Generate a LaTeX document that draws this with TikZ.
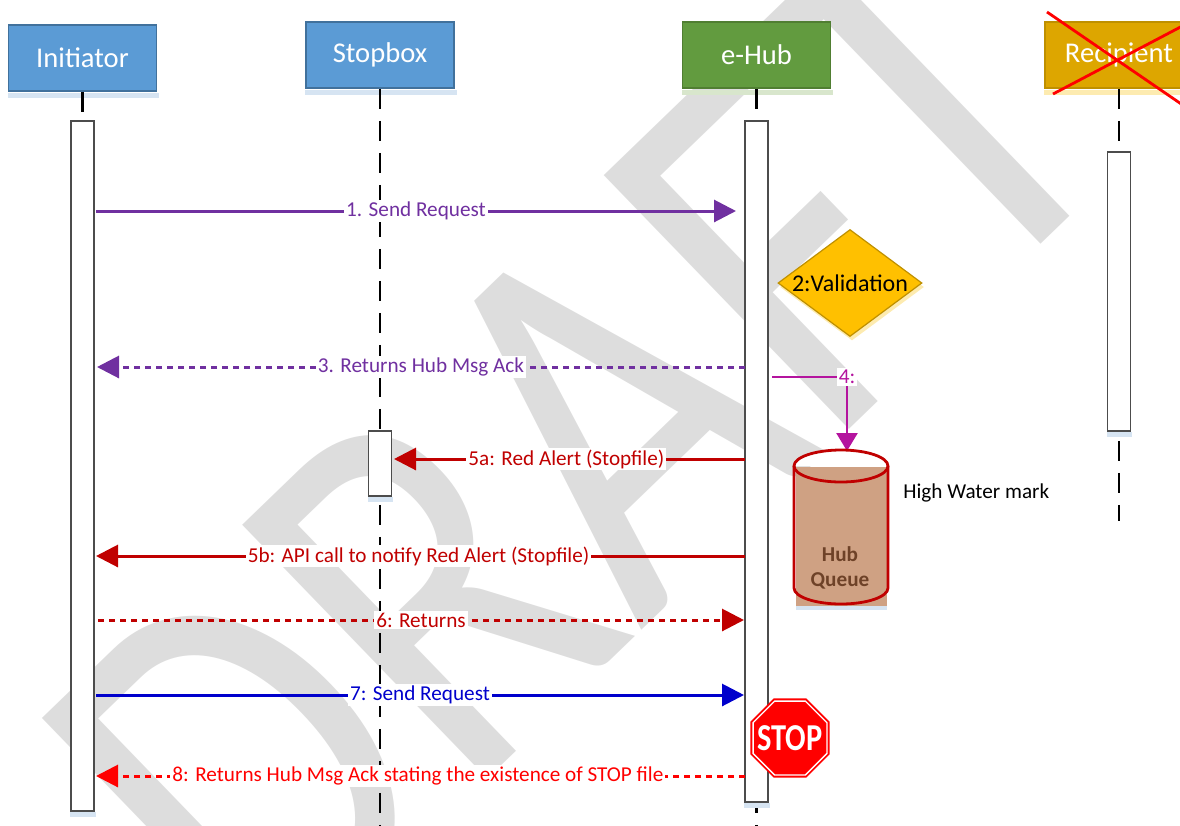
\documentclass[tikz,border=0pt]{standalone}
\usepackage{fontspec}
\usepackage{graphicx}
\setmainfont{Carlito}
\usetikzlibrary{arrows.meta,shapes.geometric}
\definecolor{hdrblue}{HTML}{5B9BD5}
\definecolor{hdrblueb}{HTML}{41719C}
\definecolor{hdrgreen}{HTML}{629B3F}
\definecolor{hdrgreenb}{HTML}{507E32}
\definecolor{hdrgold}{HTML}{DDA600}
\definecolor{hdrgoldb}{HTML}{BF9000}
\definecolor{valfill}{HTML}{FFC000}
\definecolor{mpurple}{HTML}{7030A0}
\definecolor{mmag}{HTML}{B4149E}
\definecolor{mdred}{HTML}{C00000}
\definecolor{mblue}{HTML}{0000CC}
\definecolor{mred}{HTML}{FF0000}
\definecolor{wmgray}{RGB}{221,221,221}
\definecolor{qfill}{RGB}{207,161,131}
\definecolor{qtext}{RGB}{110,66,40}
\definecolor{shblue}{HTML}{D6E4F2}
\definecolor{shgreen}{HTML}{D8E6CC}
\definecolor{shgold}{HTML}{FDEBB0}
\begin{document}
\begin{tikzpicture}[x=0.5pt,y=0.5pt,
  header/.style={draw, line width=0.75pt, minimum width=74pt, minimum height=33pt,
    inner sep=0pt, text=white, font=\fontsize{14.3}{16}\selectfont},
  act/.style={draw=black!70, fill=white, line width=0.6pt, minimum width=11.5pt, inner sep=0pt},
  life/.style={line width=1.2pt, dash pattern=on 10pt off 6pt},
  msg/.style={line width=1.5pt, -{Triangle[length=11pt,width=11pt]}},
  dots/.style={dash pattern=on 3.2pt off 2.3pt},
  lbl/.style={fill=white, inner sep=1pt, font=\fontsize{10.6}{12}\selectfont},
  stopsign/.style={regular polygon, regular polygon sides=8, minimum size=40pt, inner sep=0pt,
    fill=mred, draw=white, line width=0.7pt, preaction={draw=mred, line width=2.6pt}}
]
\useasboundingbox (0,0) rectangle (1180,-826);
\clip (0,0) rectangle (1180,-826);

% watermark
\node[rotate=44, anchor=base, inner sep=0pt, text=wmgray, font=\fontsize{250}{250}\selectfont] (wm) at (700,-574) {\scalebox{0.9}[1.1]{DRAFT}};

% headers
\node[header, fill=hdrblue, draw=hdrblueb] (hI) at (82.5,-58) {Initiator};
\node[header, fill=hdrblue, draw=hdrblueb] (hS) at (380,-55) {Stopbox};
\node[header, fill=hdrgreen, draw=hdrgreenb] (hH) at (756.5,-55) {e-Hub};
\node[header, fill=hdrgold, draw=hdrgoldb] (hR) at (1119,-55) {Recipient};
\fill[shblue] ([yshift=-0.4pt]hI.south west) rectangle ([xshift=1pt,yshift=-3pt]hI.south east);
\fill[shblue] ([yshift=-0.4pt]hS.south west) rectangle ([xshift=1pt,yshift=-3pt]hS.south east);
\fill[shgreen] ([yshift=-0.4pt]hH.south west) rectangle ([xshift=1pt,yshift=-3pt]hH.south east);
\fill[shgold] ([yshift=-0.4pt]hR.south west) rectangle ([xshift=1pt,yshift=-3pt]hR.south east);

% lifelines
\coordinate (eI) at (82.5,-840);
\coordinate (eS) at (380,-840);
\coordinate (eH) at (756.5,-840);
\coordinate (eR) at (1119,-521);
\draw[life] (hI.south) -- (eI);
\draw[life] (hS.south) -- (eS);
\draw[life] (hH.south) -- (eH);
\draw[life] (hR.south) -- (eR);

% activation boxes
\node[act, minimum height=345pt] (aI) at (82.5,-466) {};
\node[act, minimum height=32.5pt] (aS) at (380,-463.5) {};
\node[act, minimum height=340.5pt] (aH) at (756.5,-461.5) {};
\node[act, minimum height=139.5pt] (aR) at (1119,-291.5) {};
\foreach \b in {aI,aS,aH,aR}
  \fill[shblue] ([yshift=-0.4pt]\b.south west) rectangle ([xshift=0.5pt,yshift=-2.6pt]\b.south east);

% red cross over Recipient
\coordinate (x1a) at (1047,-12);
\coordinate (x1b) at (1190,-110);
\coordinate (x2a) at (1053,-94);
\coordinate (x2b) at (1190,-22);
\draw[mred, line width=1.4pt] (x1a) -- (x1b);
\draw[mred, line width=1.4pt] (x2a) -- (x2b);

% messages
\coordinate (m1a) at (96,-211);  \coordinate (m1b) at (736,-211);
\coordinate (m3a) at (745,-367); \coordinate (m3b) at (97,-367);
\coordinate (m4a) at (772,-377); \coordinate (m4b) at (847,-451);
\coordinate (m5a) at (745,-459); \coordinate (m5b) at (394,-459);
\coordinate (m6a) at (745,-556); \coordinate (m6b) at (96,-556);
\coordinate (m7a) at (98,-620);  \coordinate (m7b) at (744,-620);
\coordinate (m8a) at (96,-695);  \coordinate (m8b) at (744,-695);
\coordinate (m9a) at (745,-776); \coordinate (m9b) at (96,-776);

\draw[msg, mpurple] (m1a) -- node[lbl, text=mpurple] (l1) {1. Send Request} (m1b);
\draw[msg, dots, mpurple] (m3a) -- node[lbl, text=mpurple] (l3) {3. Returns Hub Msg Ack} (m3b);
\draw[mmag, line width=1.35pt, -{Triangle[length=9pt,width=10.5pt]}] (m4a) -| node[lbl, text=mmag, pos=0.5] (l4) {4:} (m4b);
\draw[msg, mdred] (m5a) -- node[lbl, text=mdred, pos=0.509] (l5a) {5a: Red Alert (Stopfile)} (m5b);
\draw[msg, mdred] (m6a) -- node[lbl, text=mdred, pos=0.503] (l5b) {5b: API call to notify Red Alert (Stopfile)} (m6b);
\draw[msg, dots, mdred] (m7a) -- node[lbl, text=mdred] (l6) {6: Returns} (m7b);
\draw[msg, mblue] (m8a) -- node[lbl, text=mblue] (l7) {7: Send Request} (m8b);
\draw[msg, dots, mred] (m9a) -- node[lbl, text=mred, pos=0.504] (l8) {8: Returns Hub Msg Ack stating the existence of STOP file} (m9b);

% validation diamond (with faint shadow)
\node[diamond, fill=shgold, inner sep=0pt, aspect=1.35,
  minimum width=72pt, minimum height=53.5pt, font=\fontsize{12}{14}\selectfont, text=shgold] (valsh) at (852,-287) {2:Validation};
\node[diamond, draw=hdrgoldb, fill=valfill, line width=0.6pt, inner sep=0pt, aspect=1.35,
  minimum width=72pt, minimum height=53.5pt, font=\fontsize{12}{14}\selectfont] (val) at (850,-283) {2:Validation};

% hub queue cylinder
\fill[shblue] (796,-604) rectangle (887,-610);
\fill[qfill] (796,-467) rectangle (887,-606);
\fill[white] (794,-466) arc[start angle=180, end angle=0, x radius=23.5pt, y radius=8pt] -- cycle;
\draw[mdred, line width=1.4pt] (841,-466) ellipse[x radius=23.5pt, y radius=8pt];
\draw[mdred, line width=1.4pt] (794,-466) -- (794,-588) arc[start angle=180, end angle=360, x radius=23.5pt, y radius=8pt] -- (888,-466);
\node[text=qtext, font=\fontsize{10.6}{12.5}\selectfont\bfseries, align=center] (qtxt) at (840,-568) {Hub\\Queue};
\node[anchor=west, inner sep=0pt, font=\fontsize{10.6}{12}\selectfont] (hwm) at (903,-493) {High Water mark};

% stop sign
\node[stopsign] (stop) at (790,-738) {};
\node[text=white, font=\fontsize{19}{20}\selectfont\bfseries, inner sep=0pt] (stoptxt) at (stop.center) {\scalebox{0.8}[1]{STOP}};
\end{tikzpicture}
\end{document}
